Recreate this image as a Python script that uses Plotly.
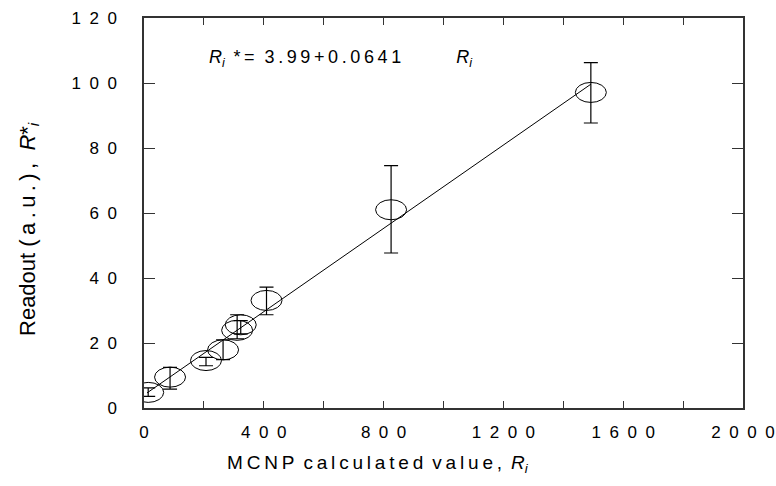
import plotly.graph_objects as go

# ---- data ----
mcnp_values = [14, 87, 207, 264, 311, 323, 409, 825, 1492]
readout_values = [4.8, 9.5, 14.6, 17.9, 23.9, 25.6, 33.1, 61.0, 97.1]
err_upper = [1.4, 3.0, 1.0, 3.1, 4.8, 1.3, 4.1, 13.6, 9.2]
err_lower = [1.2, 3.7, 1.6, 3.0, 2.6, 2.8, 4.4, 13.3, 9.4]

fit_intercept = 3.99
fit_slope = 0.0641
fit_x = [10, 1492]
fit_y = [fit_intercept + fit_slope * v for v in fit_x]

x_tick_values = [0, 400, 800, 1200, 1600, 2000]
x_minor_values = [200, 600, 1000, 1400, 1800]
x_tick_labels = ["0", "400", "800", "1200", "1600", "2000"]
y_tick_values = [0, 20, 40, 60, 80, 100, 120]
y_tick_labels = ["0", "20", "40", "60", "80", "100", "120"]

SP = "\u2002"
def spaced(s, sep=SP):
    return sep.join(list(s))

FONT = "Liberation Sans, Arial, sans-serif"

fig = go.Figure()

# fit line
fig.add_trace(go.Scatter(x=fit_x, y=fit_y, mode="lines",
                         line=dict(color="black", width=1), showlegend=False,
                         hoverinfo="skip"))

# error bars
fig.add_trace(go.Scatter(
    x=mcnp_values, y=readout_values, mode="markers",
    marker=dict(size=2, color="rgba(0,0,0,0)"),
    error_y=dict(type="data", symmetric=False, array=err_upper,
                 arrayminus=err_lower, color="black", thickness=1.2, width=7),
    showlegend=False, cliponaxis=False))

# ellipse markers
for xv, yv in zip(mcnp_values, readout_values):
    fig.add_shape(type="circle", xref="x", yref="y",
                  xsizemode="pixel", ysizemode="pixel",
                  xanchor=xv, yanchor=yv,
                  x0=-15.5, x1=15.5, y0=-10, y1=10,
                  line=dict(color="black", width=1), fillcolor="rgba(0,0,0,0)")

TS = "\u2009"
NB = "\u00a0"
x_title = (TS.join("MCNP") + NB + TS + TS.join("calculated") + NB + TS
           + TS.join("value,") + NB + TS + "<i>R</i><sub><i>i</i></sub>")
y_title = ("Readout" + NB + TS.join("(a.u.),") + NB * 2 + "<i>R</i>*<sub><i>i</i></sub>")
eq_text = ("<i>R</i><sub><i>i</i></sub>" + NB + TS + "*" + TS + "=" + NB + NB
           + TS.join("3.99+0.0641") + NB * 11 + "<i>R</i><sub><i>i</i></sub>")

fig.update_layout(
    width=776, height=486,
    margin=dict(l=144, r=33, t=18, b=78, autoexpand=False),
    paper_bgcolor="white", plot_bgcolor="white",
    font=dict(family=FONT, size=17, color="black"),
    xaxis=dict(range=[0, 2000], tickmode="array", tickvals=x_tick_values,
               ticktext=[spaced(t) for t in x_tick_labels],
               ticks="inside", ticklen=7, tickwidth=1.2, tickcolor="#333",
               minor=dict(tickvals=x_minor_values, ticks="inside", ticklen=7,
                          tickwidth=1.2, tickcolor="#333", showgrid=False),
               showline=True, linecolor="#333", linewidth=1.5, mirror="ticks",
               showgrid=False, zeroline=False, ticklabelstandoff=8,
               automargin=False, tickfont=dict(size=17)),
    yaxis=dict(range=[0, 120], tickmode="array", tickvals=y_tick_values,
               ticktext=[spaced(t) for t in y_tick_labels],
               ticks="inside", ticklen=11, tickwidth=1.2, tickcolor="#333",
               showline=True, linecolor="#333", linewidth=1.5, mirror="ticks",
               showgrid=False, zeroline=False, ticklabelstandoff=22,
               automargin=False, tickfont=dict(size=17)),
    annotations=[
        dict(text=x_title, xref="paper", yref="paper", x=0.39, y=-0.143,
             xanchor="center", yanchor="middle", showarrow=False,
             font=dict(size=19)),
        dict(text=y_title, xref="paper", yref="paper", x=-0.193, y=0.46,
             xanchor="center", yanchor="middle", showarrow=False,
             textangle=-90, font=dict(size=22)),
        dict(text=eq_text, xref="paper", yref="paper", x=0.105, y=0.897,
             xanchor="left", yanchor="middle", showarrow=False,
             font=dict(size=18)),
    ],
)

fig.write_html("out.html", config={"displayModeBar": False},
               post_script="document.body.style.margin='0';document.body.style.padding='0';")
